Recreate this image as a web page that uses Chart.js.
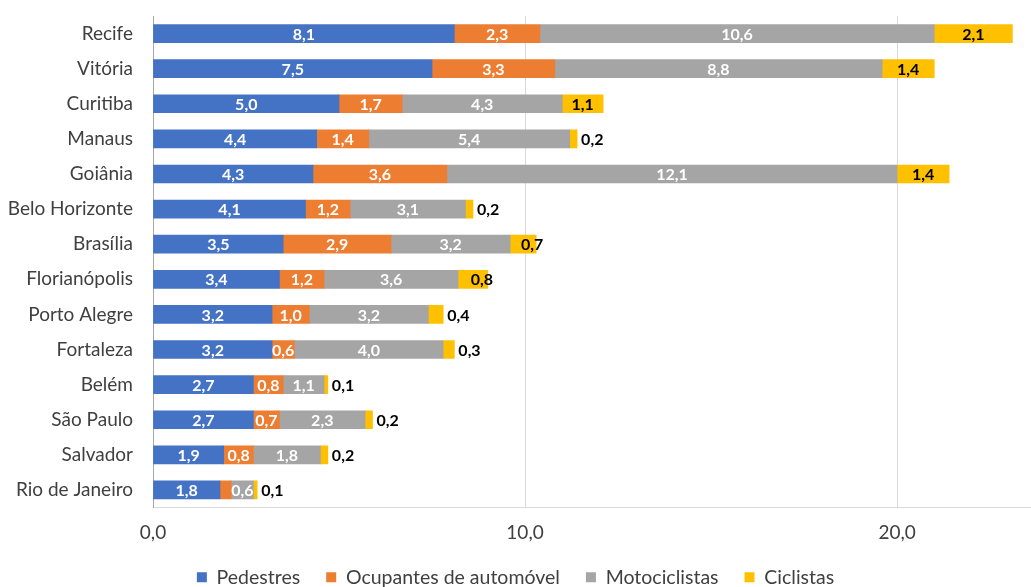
<!DOCTYPE html>
<html>
<head>
<meta charset="utf-8">
<script src="https://cdn.jsdelivr.net/npm/chart.js@4"></script>
<style>
  html, body { margin: 0; padding: 0; background: #fff; }
  #wrap { width: 1031px; height: 587px; position: relative; }
</style>
</head>
<body>
<div id="wrap"><canvas id="chart"></canvas></div>
<script>
const cities = ["Recife", "Vitória", "Curitiba", "Manaus", "Goiânia", "Belo Horizonte", "Brasília",
  "Florianópolis", "Porto Alegre", "Fortaleza", "Belém", "São Paulo", "Salvador", "Rio de Janeiro"];
const pedestres = [8.1, 7.5, 5.0, 4.4, 4.3, 4.1, 3.5, 3.4, 3.2, 3.2, 2.7, 2.7, 1.9, 1.8];
const ocupantes = [2.3, 3.3, 1.7, 1.4, 3.6, 1.2, 2.9, 1.2, 1.0, 0.6, 0.8, 0.7, 0.8, 0.3];
const motociclistas = [10.6, 8.8, 4.3, 5.4, 12.1, 3.1, 3.2, 3.6, 3.2, 4.0, 1.1, 2.3, 1.8, 0.6];
const ciclistas = [2.1, 1.4, 1.1, 0.2, 1.4, 0.2, 0.7, 0.8, 0.4, 0.3, 0.1, 0.2, 0.2, 0.1];
const xTicks = [0, 10, 20];

const FONT = "Lato, 'Open Sans', sans-serif";
const fmt = v => v.toFixed(1).replace(".", ",");

const labelPlugin = {
  id: "barLabels",
  afterDatasetsDraw(chart) {
    const ctx = chart.ctx;
    ctx.save();
    ctx.font = "bold 16px " + FONT;
    ctx.textBaseline = "middle";
    chart.data.datasets.forEach((ds, di) => {
      const meta = chart.getDatasetMeta(di);
      meta.data.forEach((bar, i) => {
        const v = ds.data[i];
        const mid = (bar.x + bar.base) / 2;
        if (di === 3) {
          ctx.fillStyle = "#000";
          if (v >= 1) {
            ctx.textAlign = "center";
            ctx.fillText(fmt(v), mid, bar.y + 1);
          } else if (v >= 0.7) {
            ctx.textAlign = "center";
            ctx.fillText(fmt(v), mid + 9, bar.y + 1);
          } else {
            ctx.textAlign = "left";
            ctx.fillText(fmt(v), bar.x + 4, bar.y + 1);
          }
        } else {
          if (v < 0.5) return;
          ctx.fillStyle = "#fff";
          ctx.textAlign = "center";
          ctx.fillText(fmt(v), mid, bar.y + 1);
        }
      });
    });
    ctx.restore();
  }
};

function makeSet(label, data, color) {
  return { label, data, backgroundColor: color, borderWidth: 0, barThickness: 18 };
}

new Chart(document.getElementById("chart").getContext("2d"), {
  type: "bar",
  data: {
    labels: cities,
    datasets: [
      makeSet("Pedestres", pedestres, "#4472C4"),
      makeSet("Ocupantes de automóvel", ocupantes, "#ED7D31"),
      makeSet("Motociclistas", motociclistas, "#A5A5A5"),
      makeSet("Ciclistas", ciclistas, "#FFC000")
    ]
  },
  options: {
    indexAxis: "y",
    responsive: true,
    maintainAspectRatio: false,
    animation: false,
    layout: { padding: { top: 16, right: 0, bottom: -10, left: 0 } },
    plugins: {
      tooltip: { enabled: false },
      legend: {
        position: "bottom",
        labels: { boxWidth: 10, boxHeight: 10, padding: 26, color: "#404040", font: { family: FONT, size: 19.5 } }
      }
    },
    scales: {
      x: {
        stacked: true,
        min: 0,
        max: 23.6,
        afterBuildTicks: s => { s.ticks = xTicks.map(v => ({ value: v })); },
        afterFit: s => { s.height = 34; s.paddingLeft = 0; s.paddingRight = 0; },
        ticks: { color: "#404040", padding: 14, font: { family: FONT, size: 19 }, callback: v => fmt(v) },
        grid: { color: "#d9d9d9", drawTicks: false },
        border: { color: "#d9d9d9" }
      },
      y: {
        stacked: true,
        afterFit: s => { s.width = 153; s.paddingTop = 0; s.paddingBottom = 0; },
        ticks: { color: "#404040", padding: 20, font: { family: FONT, size: 19 } },
        grid: { display: false, drawTicks: false },
        border: { color: "#a6a6a6" }
      }
    }
  },
  plugins: [labelPlugin]
});
</script>
</body>
</html>
